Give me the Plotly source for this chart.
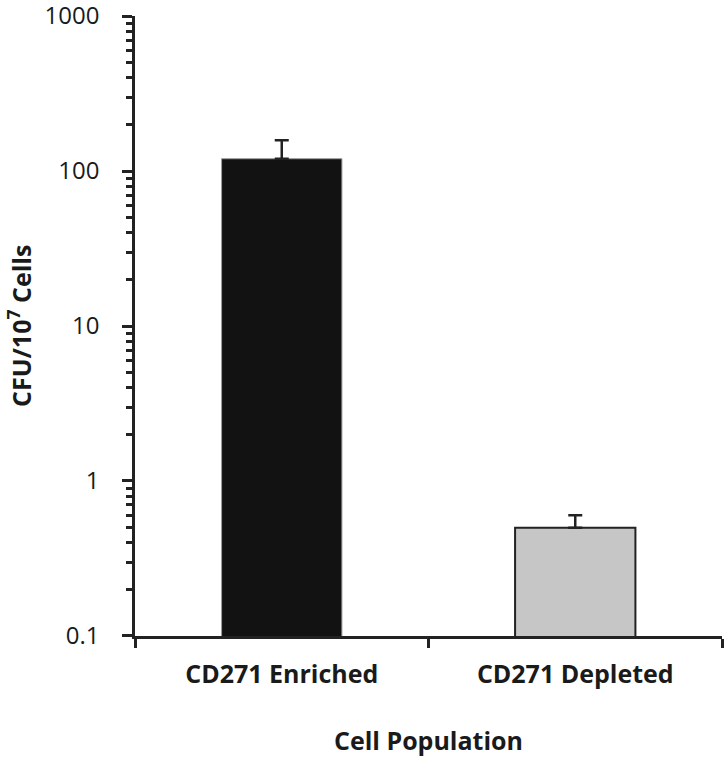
import plotly.graph_objects as go

categories = ["CD271 Enriched", "CD271 Depleted"]
values = [120, 0.5]
errors = [38, 0.1]
colors = ["#121212", "#c6c6c6"]
line_colors = ["#9a9a9a", "#222222"]

FONT = "Open Sans"

fig = go.Figure()
fig.add_trace(go.Bar(
    x=categories, y=values, width=0.41,
    marker=dict(color=colors, line=dict(color=line_colors, width=[1, 2])),
    error_y=dict(type="data", array=errors, arrayminus=[0, 0], symmetric=False,
                 color="#222222", thickness=2.5, width=7),
))

fig.update_layout(
    width=724, height=763,
    margin=dict(l=135, r=2, t=16, b=127),
    paper_bgcolor="white", plot_bgcolor="white",
    showlegend=False,
    font=dict(family=FONT, color="#1a1a1a"),
    xaxis=dict(
        automargin=False,
        showline=True, linecolor="#222222", linewidth=2.5,
        ticks="outside", tickson="boundaries", ticklen=9, tickwidth=2.5, tickcolor="#222222",
        tickfont=dict(family=FONT, size=25, weight="bold", color="#1a1a1a"),
        ticklabelstandoff=14,
        title=dict(text="Cell Population", font=dict(family=FONT, size=25, weight="bold"), standoff=44),
        showgrid=False, zeroline=False,
    ),
    yaxis=dict(
        automargin=False,
        type="log", range=[-1.0002, 3.0002],
        tickmode="linear", tick0=0, dtick=1, exponentformat="none",
        ticklabeloverflow="allow",
        showline=True, linecolor="#222222", linewidth=2.5,
        ticks="outside", ticklen=10, tickwidth=2.5, tickcolor="#222222",
        minor=dict(ticks="outside", ticklen=6, tickwidth=2.5, tickcolor="#222222", dtick="D1"),
        tickfont=dict(family=FONT, size=24, color="#1a1a1a"),
        ticklabelstandoff=18,
        showgrid=False, zeroline=False,
    ),
    annotations=[dict(
        text="CFU/10<sup>7</sup> Cells", textangle=-90,
        xref="paper", yref="paper", x=0, y=0.5, xanchor="center", yanchor="middle",
        xshift=-116, showarrow=False,
        font=dict(family=FONT, size=25, weight="bold", color="#1a1a1a"),
    )],
)

# remove the default 8px page margin so the figure fills the window exactly
fig.write_html("out.html", config={"displayModeBar": False},
               post_script="document.body.style.margin='0';")
